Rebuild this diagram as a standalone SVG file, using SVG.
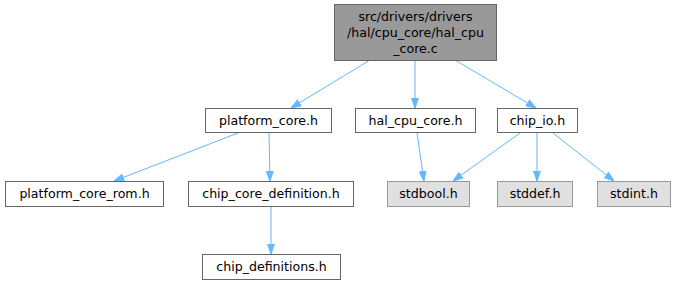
<svg xmlns="http://www.w3.org/2000/svg" width="673" height="285" viewBox="0 0 673 285">
<style>
.n rect{fill:#fff;stroke:#666;stroke-width:1}
.g rect{fill:#e0e0e0;stroke:#999}
.m rect{fill:#999;stroke:#666}
text{font-family:"DejaVu Sans",sans-serif;font-size:12.6px;fill:#000;text-anchor:middle}
.e path{fill:none;stroke:#63b8ff;stroke-width:1}
</style>
<defs>
<marker id="a" viewBox="0 0 10 8" refX="10" refY="4" markerWidth="10" markerHeight="8" markerUnits="userSpaceOnUse" orient="auto">
<path d="M0,0.5L10,4L0,7.5z" fill="#63b8ff" stroke="#63b8ff"/>
</marker>
</defs>
<g class="e">
<path d="M370,60L291,108" marker-end="url(#a)"/>
<path d="M415,60L415,108" marker-end="url(#a)"/>
<path d="M455,60L536,108" marker-end="url(#a)"/>
<path d="M238,133L114,181" marker-end="url(#a)"/>
<path d="M269,133L270,181" marker-end="url(#a)"/>
<path d="M271,207L271,254" marker-end="url(#a)"/>
<path d="M417,133L424,181" marker-end="url(#a)"/>
<path d="M520,133L453,181" marker-end="url(#a)"/>
<path d="M537,133L537,181" marker-end="url(#a)"/>
<path d="M553,133L614,181" marker-end="url(#a)"/>
</g>
<g id="main" class="m"><rect x="334.5" y="4.5" width="162" height="56"/><text x="415.5" y="21">src/drivers/drivers</text><text x="415.5" y="37">/hal/cpu_core/hal_cpu</text><text x="415.5" y="53">_core.c</text></g>
<g id="platform_core" class="n"><rect x="205.5" y="108.5" width="126" height="24"/><text x="268.5" y="125">platform_core.h</text></g>
<g id="hal_cpu_core" class="n"><rect x="355.5" y="108.5" width="120" height="24"/><text x="415.5" y="125">hal_cpu_core.h</text></g>
<g id="chip_io" class="n"><rect x="497.5" y="108.5" width="80" height="24"/><text x="537.5" y="125">chip_io.h</text></g>
<g id="platform_core_rom" class="n"><rect x="5.5" y="181.5" width="158" height="25"/><text x="84.5" y="198">platform_core_rom.h</text></g>
<g id="chip_core_definition" class="n"><rect x="188.5" y="181.5" width="165" height="25"/><text x="271" y="198">chip_core_definition.h</text></g>
<g id="stdbool" class="g"><rect x="387.5" y="181.5" width="82" height="25"/><text x="428.5" y="198">stdbool.h</text></g>
<g id="stddef" class="g"><rect x="497.5" y="181.5" width="75" height="25"/><text x="535" y="198">stddef.h</text></g>
<g id="stdint" class="g"><rect x="597.5" y="181.5" width="73" height="25"/><text x="634" y="198">stdint.h</text></g>
<g id="chip_definitions" class="n"><rect x="202.5" y="254.5" width="138" height="25"/><text x="271.5" y="271">chip_definitions.h</text></g>
</svg>
